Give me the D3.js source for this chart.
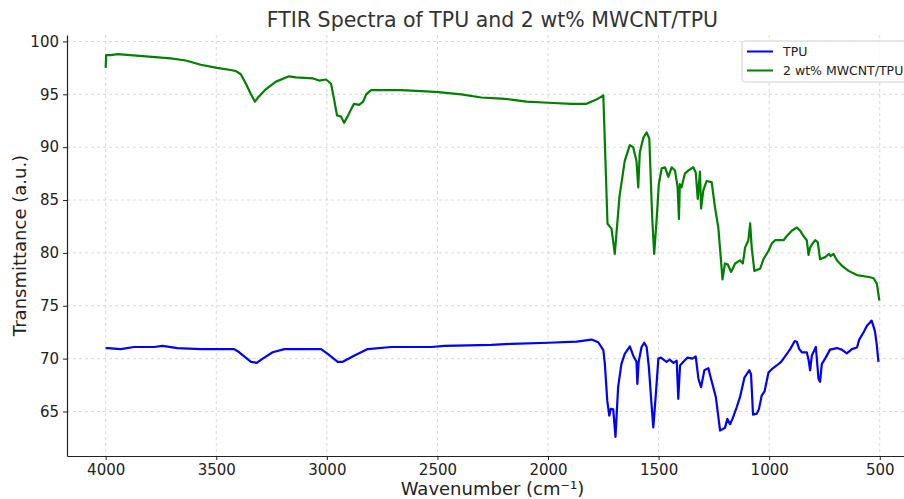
<!DOCTYPE html>
<html>
<head>
<meta charset="utf-8">
<script src="https://cdn.jsdelivr.net/npm/d3@7"></script>
<style>
  body { margin: 0; background: #fff; }
  svg { display: block; font-family: "DejaVu Sans", sans-serif; }
</style>
</head>
<body>
<div id="chart"></div>
<script>
// TPU spectrum (wavenumber cm-1, transmittance)
const tpuWave = [4000, 3992, 3932, 3872, 3781, 3743, 3675, 3570, 3419, 3396, 3343, 3317, 3290, 3245, 3192, 3026, 2996, 2951, 2928, 2875, 2815, 2709, 2528, 2468, 2256, 2166, 1998, 1871, 1803, 1773, 1750, 1743, 1732, 1723, 1716, 1705, 1695, 1683, 1668, 1653, 1630, 1615, 1600, 1596, 1590, 1577, 1565, 1554, 1544, 1532, 1524, 1514, 1501, 1490, 1464, 1450, 1433, 1418, 1411, 1403, 1388, 1369, 1347, 1332, 1320, 1308, 1293, 1275, 1263, 1241, 1222, 1200, 1189, 1177, 1166, 1147, 1132, 1112, 1090, 1082, 1073, 1056, 1046, 1034, 1021, 1003, 988, 966, 946, 920, 905, 885, 875, 864, 852, 830, 822, 815, 807, 789, 777, 770, 762, 747, 725, 694, 672, 649, 626, 603, 593, 573, 558, 545, 537, 529, 522, 514, 506];
const tpuT = [71.0, 71.0, 70.9, 71.1, 71.1, 71.2, 71.0, 70.9, 70.9, 70.6, 69.7, 69.6, 70.0, 70.6, 70.9, 70.9, 70.45, 69.7, 69.7, 70.3, 70.9, 71.1, 71.1, 71.2, 71.3, 71.4, 71.5, 71.6, 71.8, 71.55, 70.8, 69.5, 66.0, 64.6, 65.25, 65.2, 62.6, 67.3, 69.5, 70.45, 71.15, 70.3, 69.7, 67.6, 69.7, 71.1, 71.5, 71.1, 69.2, 65.7, 63.5, 66.2, 70.0, 70.1, 69.7, 69.9, 69.6, 69.8, 66.2, 69.35, 69.7, 70.1, 70.0, 70.2, 68.1, 67.3, 68.9, 69.1, 68.1, 66.35, 63.2, 63.45, 64.3, 63.8, 64.3, 65.4, 66.35, 68.2, 68.9, 68.5, 64.7, 64.8, 65.25, 66.5, 66.9, 68.7, 69.0, 69.35, 69.7, 70.45, 70.9, 71.65, 71.6, 70.9, 70.6, 70.6, 69.9, 68.9, 70.3, 71.1, 68.1, 67.8, 69.5, 70.0, 70.85, 71.0, 70.85, 70.5, 70.9, 71.05, 71.8, 72.5, 73.1, 73.4, 73.6, 73.1, 72.6, 71.4, 69.7];

// 2 wt% MWCNT/TPU spectrum
const cntWave = [4000, 3998, 3977, 3946, 3706, 3638, 3570, 3497, 3434, 3411, 3389, 3366, 3343, 3325, 3307, 3275, 3230, 3171, 3140, 3062, 3035, 3004, 2981, 2967, 2954, 2936, 2922, 2904, 2890, 2877, 2854, 2836, 2822, 2800, 2664, 2573, 2496, 2392, 2302, 2211, 2166, 2098, 1998, 1894, 1826, 1781, 1750, 1731, 1713, 1698, 1677, 1653, 1630, 1615, 1600, 1592, 1585, 1569, 1554, 1542, 1535, 1529, 1520, 1509, 1499, 1486, 1471, 1456, 1441, 1426, 1414, 1408, 1404, 1396, 1381, 1365, 1343, 1332, 1323, 1313, 1308, 1298, 1283, 1260, 1245, 1230, 1211, 1200, 1187, 1172, 1154, 1132, 1119, 1109, 1094, 1086, 1079, 1067, 1041, 1026, 1003, 988, 973, 935, 920, 898, 875, 860, 845, 830, 822, 815, 803, 792, 780, 770, 747, 729, 722, 709, 694, 672, 641, 603, 543, 528, 513, 502];
const cntT = [97.5, 98.7, 98.7, 98.8, 98.4, 98.2, 97.8, 97.5, 97.3, 97.2, 96.9, 96.0, 95.0, 94.3, 94.8, 95.5, 96.2, 96.7, 96.6, 96.5, 96.3, 96.4, 96.0, 94.5, 93.0, 92.9, 92.3, 93.0, 93.6, 94.1, 94.0, 94.3, 95.0, 95.4, 95.4, 95.3, 95.2, 95.0, 94.7, 94.6, 94.5, 94.3, 94.2, 94.1, 94.1, 94.5, 94.9, 82.75, 82.3, 79.9, 85.3, 88.7, 90.2, 90.0, 88.7, 86.2, 89.5, 90.9, 91.4, 90.8, 86.8, 83.4, 79.9, 83.1, 86.5, 88.0, 88.1, 87.2, 88.1, 87.8, 86.2, 83.2, 86.5, 86.2, 87.5, 87.8, 88.1, 87.6, 85.1, 87.7, 84.2, 85.9, 86.8, 86.7, 84.3, 82.4, 77.5, 79.0, 78.9, 78.2, 79.0, 79.3, 79.0, 80.5, 81.2, 82.8, 80.5, 78.3, 78.5, 79.4, 80.2, 80.9, 81.2, 81.2, 81.6, 82.1, 82.4, 82.1, 81.6, 81.2, 79.8, 80.5, 80.9, 81.2, 81.0, 79.4, 79.6, 79.9, 79.7, 79.9, 79.3, 78.8, 78.3, 77.9, 77.7, 77.6, 77.1, 75.5];

const seriesNames = ['TPU', '2 wt% MWCNT/TPU'];
const seriesColors = ['#0000ff', '#008000'];
const xTicks = [4000, 3500, 3000, 2500, 2000, 1500, 1000, 500];
const yTicks = [65, 70, 75, 80, 85, 90, 95, 100];

const W = 904, H = 499;
const margin = {top: 35, right: -14, bottom: 43, left: 67};
const innerW = W - margin.left - margin.right;
const innerH = H - margin.top - margin.bottom;

const series = [
  {name: seriesNames[0], color: seriesColors[0], values: tpuWave.map((w, i) => ({w: w, t: tpuT[i]}))},
  {name: seriesNames[1], color: seriesColors[1], values: cntWave.map((w, i) => ({w: w, t: cntT[i]}))}
];

// matplotlib-like 5% padding
const allW = tpuWave.concat(cntWave), allT = tpuT.concat(cntT);
const wExt = d3.extent(allW), tExt = d3.extent(allT);
const wPad = (wExt[1] - wExt[0]) * 0.05, tPad = (tExt[1] - tExt[0]) * 0.05;

const x = d3.scaleLinear().domain([wExt[1] + wPad, wExt[0] - wPad]).range([0, innerW]);
const y = d3.scaleLinear().domain([tExt[0] - tPad, tExt[1] + tPad]).range([innerH, 0]);

const svg = d3.select('#chart').append('svg')
  .attr('width', W).attr('height', H);

const g = svg.append('g').attr('transform', `translate(${margin.left},${margin.top})`);

// grid
g.append('g').selectAll('line').data(xTicks).join('line')
  .attr('x1', d => x(d)).attr('x2', d => x(d))
  .attr('y1', 0).attr('y2', innerH)
  .attr('stroke', '#cfcfcf').attr('stroke-width', 0.8).attr('stroke-dasharray', '3,3');
g.append('g').selectAll('line').data(yTicks).join('line')
  .attr('x1', 0).attr('x2', innerW)
  .attr('y1', d => y(d)).attr('y2', d => y(d))
  .attr('stroke', '#cfcfcf').attr('stroke-width', 0.8).attr('stroke-dasharray', '3,3');

// axes
const xAxis = g.append('g').attr('transform', `translate(0,${innerH})`)
  .call(d3.axisBottom(x).tickValues(xTicks).tickSizeInner(4).tickSizeOuter(0).tickPadding(4).tickFormat(d3.format('d')));
const yAxis = g.append('g')
  .call(d3.axisLeft(y).tickValues(yTicks).tickSizeInner(4).tickSizeOuter(0).tickPadding(4).tickFormat(d3.format('d')));
[xAxis, yAxis].forEach(a => {
  a.select('.domain').attr('stroke', '#222').attr('stroke-width', 1.2);
  a.selectAll('.tick line').attr('stroke', '#222');
  a.selectAll('.tick text').attr('fill', '#222').attr('font-size', 15).attr('font-family', '"DejaVu Sans", sans-serif');
});

// lines
const line = d3.line().x(d => x(d.w)).y(d => y(d.t));
g.append('g').selectAll('path').data(series).join('path')
  .attr('fill', 'none')
  .attr('stroke', d => d.color)
  .attr('stroke-width', 2.2)
  .attr('stroke-linejoin', 'round')
  .attr('d', d => line(d.values));

// title and labels
svg.append('text')
  .attr('x', margin.left + innerW / 2).attr('y', 27)
  .attr('text-anchor', 'middle').attr('font-size', 20.5).attr('fill', '#333')
  .text('FTIR Spectra of TPU and 2 wt% MWCNT/TPU');
svg.append('text')
  .attr('x', margin.left + innerW / 2).attr('y', 495)
  .attr('text-anchor', 'middle').attr('font-size', 18).attr('fill', '#222')
  .text('Wavenumber (cm⁻¹)');
svg.append('text')
  .attr('transform', `translate(26,${margin.top + innerH / 2}) rotate(-90)`)
  .attr('text-anchor', 'middle').attr('font-size', 18).attr('fill', '#222')
  .text('Transmittance (a.u.)');

// legend
const leg = svg.append('g').attr('transform', 'translate(742,41)');
leg.append('rect')
  .attr('width', 175).attr('height', 41).attr('rx', 3)
  .attr('fill', '#fff').attr('fill-opacity', 0.8)
  .attr('stroke', '#d0d0d0').attr('stroke-width', 1);
const item = leg.selectAll('.item').data(series).join('g')
  .attr('class', 'item')
  .attr('transform', (d, i) => `translate(0,${10.5 + i * 19})`);
item.append('line')
  .attr('x1', 5).attr('x2', 31)
  .attr('stroke', d => d.color).attr('stroke-width', 2);
item.append('text')
  .attr('x', 41).attr('dy', '0.35em')
  .attr('font-size', 12.5).attr('fill', '#222')
  .text(d => d.name);
</script>
</body>
</html>
